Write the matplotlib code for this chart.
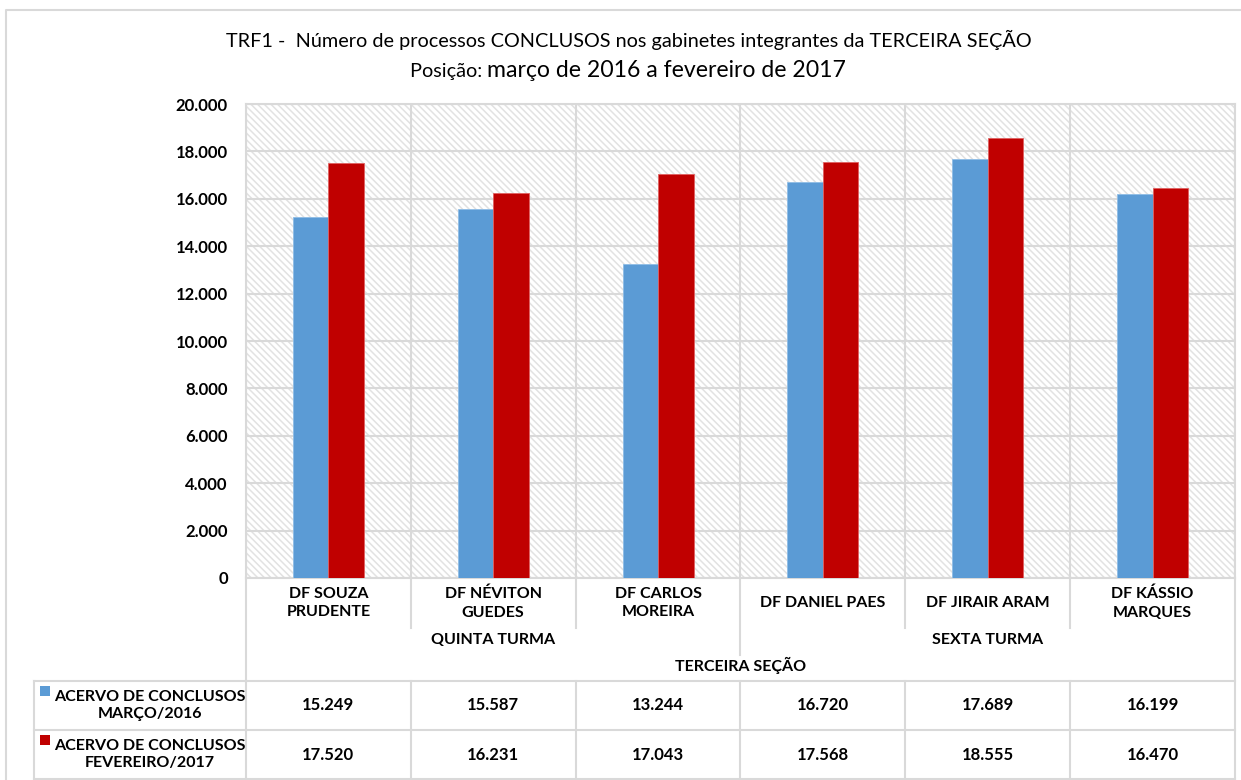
import matplotlib
matplotlib.use("Agg")
import matplotlib.pyplot as plt
import matplotlib.transforms as mtransforms
from matplotlib.patches import Rectangle
from matplotlib.lines import Line2D
import numpy as np

# --- data -------------------------------------------------------------
judges = ["DF SOUZA\nPRUDENTE", "DF NÉVITON\nGUEDES", "DF CARLOS\nMOREIRA",
          "DF DANIEL PAES", "DF JIRAIR ARAM", "DF KÁSSIO\nMARQUES"]
turmas = ["QUINTA TURMA", "SEXTA TURMA"]
turma_size = [3, 3]
secao = "TERCEIRA SEÇÃO"
series_names = ["ACERVO DE CONCLUSOS\nMARÇO/2016", "ACERVO DE CONCLUSOS\nFEVEREIRO/2017"]
marco_2016 = [15249, 15587, 13244, 16720, 17689, 16199]
fevereiro_2017 = [17520, 16231, 17043, 17568, 18555, 16470]
yticks = list(range(0, 20001, 2000))

title_line1 = "TRF1 -  Número de processos CONCLUSOS nos gabinetes integrantes da TERCEIRA SEÇÃO"
title_line2a = "Posição: "
title_line2b = "março de 2016 a fevereiro de 2017"

# --- style ------------------------------------------------------------
FONT = ["Lato", "DejaVu Sans"]
plt.rcParams["font.family"] = FONT
plt.rcParams["hatch.linewidth"] = 1.1
HATCH = "#e2e2e2"
BLUE = "#5B9BD5"
RED = "#C00000"
GRID = "#d9d9d9"
TXT = "#000000"

W, H = 1241, 780
fig = plt.figure(figsize=(W / 100, H / 100), dpi=100)

def fx(px):
    return px / W

def fy(py):
    return 1 - py / H

ax_left, ax_right, ax_top, ax_bot = 246, 1235, 104, 578
ax = fig.add_axes([fx(ax_left), fy(ax_bot), fx(ax_right - ax_left), (ax_bot - ax_top) / H])

n = len(judges)
x = np.arange(n)
bw = 0.215

# hatched plot area
ax.set_facecolor("white")
ax.add_patch(Rectangle((0, 0), 1, 1, transform=ax.transAxes, facecolor="white",
                       edgecolor=HATCH, hatch="\\\\\\\\\\", lw=0, zorder=0))

ax.bar(x - bw / 2, marco_2016, width=bw, color=BLUE, edgecolor="#8fbde6", lw=0.6, zorder=3)
ax.bar(x + bw / 2, fevereiro_2017, width=bw, color=RED, edgecolor="#e06060", lw=0.6, zorder=3)

ax.set_xlim(-0.5, n - 0.5)
ax.set_ylim(0, 20000)
ax.set_yticks(yticks)
ax.set_yticklabels([f"{v:,}".replace(",", ".") for v in yticks],
                   fontsize=12, fontweight="bold", color=TXT)
ax.tick_params(axis="y", length=0, pad=13)
ax.set_xticks([])

for v in yticks:
    ax.axhline(v, color=GRID, lw=1.5, zorder=1)
for b in np.arange(-0.5, n, 1.0):
    ax.axvline(b, color=GRID, lw=1.5, zorder=1)
for s in ax.spines.values():
    s.set_color(GRID)
    s.set_linewidth(1.5)

# --- category axis and table below the plot ---------------------------
bt = mtransforms.blended_transform_factory(ax.transData, fig.transFigure)

def vline_data(xd, y0, y1):
    fig.add_artist(Line2D([xd, xd], [fy(y0), fy(y1)], transform=bt, color=GRID, lw=1.5))

def hline(px0, xd1, py):
    fig.add_artist(Line2D([fx(px0), fx(ax_left)], [fy(py), fy(py)],
                          transform=fig.transFigure, color=GRID, lw=1.5))
    fig.add_artist(Line2D([-0.5, xd1], [fy(py), fy(py)], transform=bt, color=GRID, lw=1.5))

# judge names
for i, name in enumerate(judges):
    fig.text(i, fy(603), name, transform=bt, ha="center", va="center",
             fontsize=11.5, fontweight="bold", color=TXT, linespacing=1.45)

# separators between judges / groups
start = 0
boundaries = []
for size in turma_size:
    start += size
    boundaries.append(start - 0.5)
for b in np.arange(0.5, n - 1, 1.0):
    if b in boundaries[:-1]:
        vline_data(b, ax_bot, 655)
    else:
        vline_data(b, ax_bot, 628)
vline_data(-0.5, ax_bot, H)
vline_data(n - 0.5, ax_bot, H)

# group labels
start = 0
for name, size in zip(turmas, turma_size):
    centre = start + (size - 1) / 2
    fig.text(centre, fy(640), name, transform=bt, ha="center", va="center",
             fontsize=11.5, fontweight="bold", color=TXT)
    start += size
fig.text((n - 1) / 2, fy(665), secao, transform=bt, ha="center", va="center",
         fontsize=11.5, fontweight="bold", color=TXT)

# data table
row_tops = [681, 730, 779]
for py in row_tops:
    hline(34, n - 0.5, py)
fig.add_artist(Line2D([fx(34), fx(34)], [fy(681), fy(H)], transform=fig.transFigure,
                      color=GRID, lw=1.5))
for b in np.arange(0.5, n - 1 + 0.01, 1.0):
    vline_data(b, 681, H)

rows = [marco_2016, fevereiro_2017]
colors = [BLUE, RED]
for r, (vals, label, col) in enumerate(zip(rows, series_names, colors)):
    yc = (row_tops[r] + row_tops[r + 1]) / 2
    for i, v in enumerate(vals):
        fig.text(i, fy(yc), f"{v:,}".replace(",", "."), transform=bt, ha="center",
                 va="center", fontsize=12, fontweight="bold", color=TXT)
    fig.add_artist(Rectangle((fx(40), fy(yc - 10)), fx(10), 10 / H,
                             transform=fig.transFigure, facecolor=col, lw=0))
    fig.text(fx(150), fy(yc), label, ha="center", va="center", fontsize=11.5,
             fontweight="bold", color=TXT, linespacing=1.3)

# outer frame
fig.add_artist(Line2D([fx(6), fx(6), 1], [0, fy(10), fy(10)], transform=fig.transFigure,
                      color=GRID, lw=1.5))

# titles
fig.text(fx(629), fy(40), title_line1, ha="center", va="center", fontsize=14.3, color=TXT)
t2a = fig.text(fx(410), fy(77), title_line2a, ha="left", va="baseline", fontsize=14.3,
               color=TXT)
fig.canvas.draw()
bb = t2a.get_window_extent(renderer=fig.canvas.get_renderer())
fig.text(bb.x1 / W, fy(77), title_line2b, fontsize=16.6, color=TXT, ha="left",
         va="baseline")

fig.savefig("out.png", dpi=100)
